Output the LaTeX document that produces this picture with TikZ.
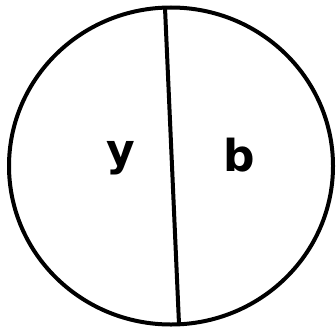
\documentclass[tikz,border=0pt]{standalone}
\usepackage{fontspec}
\setmainfont{DejaVu Sans}
\begin{document}
\begin{tikzpicture}[x=1pt,y=-1pt,
  outline/.style={line width=4pt,draw=black},
  letter/.style={font=\bfseries\fontsize{44}{44}\selectfont,inner sep=0pt}]
\useasboundingbox (0,0) rectangle (336,329);
\draw[outline] (171,166) ellipse [x radius=162, y radius=158.5];
\coordinate (top) at (165,8);
\coordinate (bot) at (179,324);
\draw[outline] (top) -- (bot);
\node[letter] (y) at (121,158) {y};
\node[letter] (b) at (239,155) {b};
\end{tikzpicture}
\end{document}
